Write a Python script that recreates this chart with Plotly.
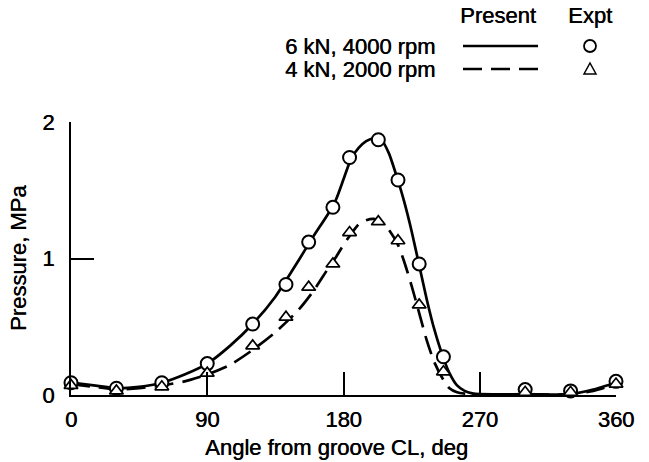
import plotly.graph_objects as go

# ---- data ----
curve_angle = [0, 15, 30, 45, 60, 75, 90, 105, 120, 135, 150, 160, 170, 175, 180, 185, 190, 195, 200,
               205, 210, 216, 220, 225, 230, 235, 240, 246, 250, 255, 260, 265, 270, 300, 330, 345, 360]
present_6kN = [0.09, 0.07, 0.05, 0.06, 0.09, 0.15, 0.23, 0.36, 0.52, 0.72, 0.98, 1.16, 1.33, 1.43, 1.58,
               1.73, 1.81, 1.86, 1.88, 1.87, 1.77, 1.57, 1.42, 1.20, 0.95, 0.70, 0.48, 0.27, 0.16, 0.07,
               0.03, 0.012, 0.006, 0.006, 0.006, 0.04, 0.09]
present_4kN = [0.08, 0.06, 0.04, 0.05, 0.07, 0.10, 0.15, 0.22, 0.33, 0.46, 0.62, 0.76, 0.93, 1.01, 1.10,
               1.18, 1.25, 1.28, 1.29, 1.27, 1.21, 1.10, 0.98, 0.80, 0.60, 0.40, 0.24, 0.11, 0.05, 0.02,
               0.01, 0.006, 0.005, 0.005, 0.005, 0.03, 0.08]

expt_angle = [0, 30, 60, 90, 120, 142, 157, 173, 184, 203, 216, 230, 246, 300, 330, 360]
expt_6kN = [0.09, 0.05, 0.09, 0.23, 0.52, 0.81, 1.12, 1.375, 1.74, 1.87, 1.575, 0.96, 0.28, 0.04, 0.03, 0.10]
expt_4kN = [0.07, 0.03, 0.06, 0.16, 0.36, 0.57, 0.79, 0.96, 1.19, 1.27, 1.13, 0.66, 0.17, 0.02, 0.02, 0.08]

x_ticks = [0, 90, 180, 270, 360]
y_ticks = [0, 1, 2]

legend_labels = ["6 kN, 4000 rpm", "4 kN, 2000 rpm"]
legend_headers = ["Present", "Expt"]

FONT = "Liberation Sans, Arial, Helvetica, sans-serif"
FS = 22
SHADOW = "0.5px 0px 0px #000"


def fnt(size=FS):
    return dict(family=FONT, size=size, color="black", shadow=SHADOW)


fig = go.Figure()
fig.add_trace(go.Scatter(x=curve_angle, y=present_6kN, mode="lines",
                         line=dict(color="black", width=2.7, shape="spline", smoothing=0.6),
                         cliponaxis=False, showlegend=False))
fig.add_trace(go.Scatter(x=curve_angle, y=present_4kN, mode="lines",
                         line=dict(color="black", width=2.7, dash="19px,9px", shape="spline", smoothing=0.6),
                         cliponaxis=False, showlegend=False))
fig.add_trace(go.Scatter(x=expt_angle, y=expt_6kN, mode="markers",
                         marker=dict(symbol="circle", size=13, color="white",
                                     line=dict(color="black", width=2)),
                         cliponaxis=False, showlegend=False))
fig.add_trace(go.Scatter(x=expt_angle, y=expt_4kN, mode="markers",
                         marker=dict(symbol="triangle-up", size=12, color="white",
                                     line=dict(color="black", width=1.7)),
                         cliponaxis=False, showlegend=False))

W, H = 649, 462
L, R, T, B = 71, 33, 122, 67
pw, ph = W - L - R, H - T - B


def px(x):
    return (x - L) / pw


def py(y):
    return (H - B - y) / ph


annotations = []
shapes = []

# axis titles
annotations.append(dict(text="Angle from groove CL, deg", x=px(336), y=py(447), xref="paper", yref="paper",
                         showarrow=False, font=fnt(), xanchor="center", yanchor="middle"))
annotations.append(dict(text="Pressure, MPa", x=px(18), y=py(258), xref="paper", yref="paper",
                         showarrow=False, textangle=-90, font=fnt(), xanchor="center", yanchor="middle"))

# legend
annotations.append(dict(text=legend_headers[0], x=px(498), y=py(15), xref="paper", yref="paper",
                         showarrow=False, font=fnt(), xanchor="center", yanchor="middle"))
annotations.append(dict(text=legend_headers[1], x=px(590), y=py(15), xref="paper", yref="paper",
                         showarrow=False, font=fnt(), xanchor="center", yanchor="middle"))
for lab, yy in zip(legend_labels, [46, 69]):
    annotations.append(dict(text=lab, x=px(437), y=py(yy), xref="paper", yref="paper",
                             showarrow=False, font=fnt(), xanchor="right", yanchor="middle"))

shapes.append(dict(type="line", xref="paper", yref="paper", x0=px(463), x1=px(538), y0=py(46), y1=py(46),
                   line=dict(color="black", width=2.7)))
shapes.append(dict(type="line", xref="paper", yref="paper", x0=px(463), x1=px(538), y0=py(69), y1=py(69),
                   line=dict(color="black", width=2.7, dash="19px,9px")))
shapes.append(dict(type="circle", xref="paper", yref="paper", xsizemode="pixel", ysizemode="pixel",
                   xanchor=px(590), yanchor=py(46), x0=-6, x1=6, y0=-6, y1=6,
                   line=dict(color="black", width=1.8)))
shapes.append(dict(type="path", xref="paper", yref="paper", xsizemode="pixel", ysizemode="pixel",
                   xanchor=px(590), yanchor=py(69), path="M -6 -5 L 6 -5 L 0 6 Z",
                   line=dict(color="black", width=1.5)))

fig.update_layout(
    width=W, height=H,
    margin=dict(l=L, r=R, t=T, b=B, pad=0),
    paper_bgcolor="white", plot_bgcolor="white",
    font=fnt(),
    annotations=annotations, shapes=shapes,
    showlegend=False,
)
fig.update_xaxes(range=[0, 360], tickvals=x_ticks, ticktext=[str(v) for v in x_ticks],
                 ticks="inside", ticklen=23, tickwidth=2, tickcolor="black",
                 showline=True, linecolor="black", linewidth=2, showgrid=False, zeroline=False,
                 ticklabelstandoff=4, tickfont=fnt())
fig.update_yaxes(range=[0, 2], tickvals=y_ticks, ticktext=[str(v) for v in y_ticks],
                 ticks="inside", ticklen=23, tickwidth=2, tickcolor="black",
                 showline=True, linecolor="black", linewidth=2, showgrid=False, zeroline=False,
                 ticklabelstandoff=10, tickfont=fnt())

fig.write_html("out.html")
